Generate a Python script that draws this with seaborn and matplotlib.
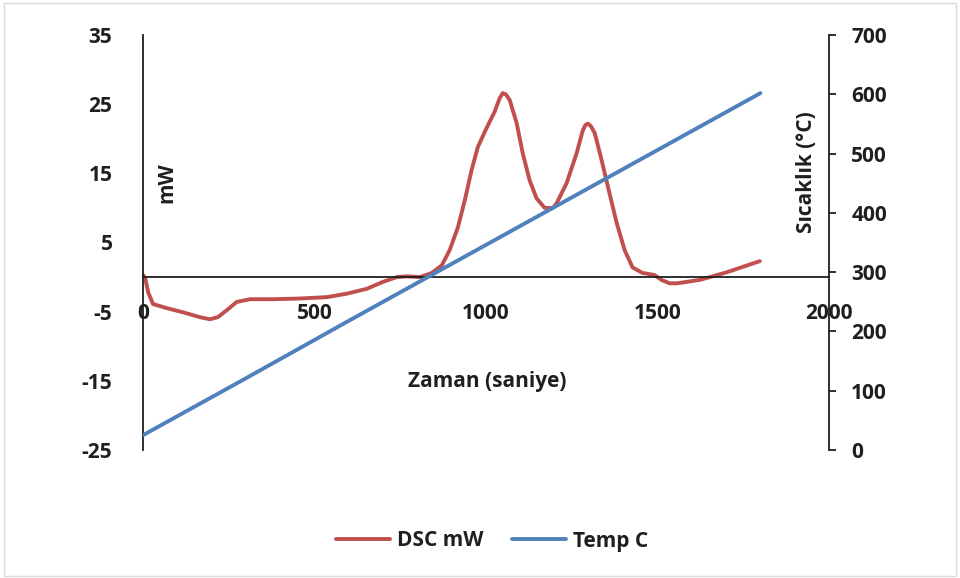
import matplotlib
matplotlib.use("Agg")
import matplotlib.pyplot as plt
import seaborn as sns
import pandas as pd
from matplotlib.lines import Line2D
from matplotlib.patches import Rectangle

# ---- data ----
dsc_time = [0, 6, 15, 29, 70, 117, 166, 195, 218, 244, 273, 312, 379, 457, 536,
            594, 652, 699, 740, 769, 808, 842, 871, 894, 918, 938, 958, 976, 1001,
            1025, 1040, 1049, 1058, 1069, 1089, 1107, 1127, 1147, 1171, 1195, 1206,
            1235, 1264, 1282, 1290, 1297, 1306, 1317, 1337, 1360, 1381, 1404, 1427,
            1456, 1491, 1511, 1535, 1557, 1624, 1660, 1702, 1750, 1798]
dsc_mw = [0.3, -0.1, -2.2, -3.9, -4.5, -5.1, -5.8, -6.1, -5.8, -4.8, -3.6, -3.2,
          -3.2, -3.1, -2.9, -2.4, -1.7, -0.7, 0.0, 0.1, 0.0, 0.6, 1.7, 3.9, 7.2,
          11.1, 15.5, 18.8, 21.5, 23.9, 25.9, 26.6, 26.4, 25.6, 22.3, 17.9, 14.0,
          11.4, 10.0, 10.0, 10.7, 13.6, 17.9, 21.2, 22.0, 22.2, 21.8, 20.8, 16.9,
          12.1, 7.8, 3.9, 1.4, 0.6, 0.3, -0.4, -0.9, -0.9, -0.4, 0.1, 0.7, 1.5, 2.3]
temp_time = [0, 300, 600, 900, 1200, 1500, 1800]
temp_c = [25, 121, 218, 314, 410, 506, 602]

x_ticks = [0, 500, 1000, 1500, 2000]
left_ticks = [-25, -15, -5, 5, 15, 25, 35]
right_ticks = [0, 100, 200, 300, 400, 500, 600, 700]

RED = "#C0504D"
BLUE = "#4F81BD"
INK = "#1f1f1f"
FS = 15

sns.set_theme(style="white")
plt.rcParams["font.family"] = ["Open Sans", "DejaVu Sans"]
plt.rcParams["font.weight"] = "bold"
plt.rcParams["axes.unicode_minus"] = False

fig = plt.figure(figsize=(9.6, 5.78), dpi=100)
fig.patches.append(Rectangle((0.004, 0.004), 0.992, 0.99, transform=fig.transFigure,
                             fill=False, edgecolor="#d9d9d9", linewidth=1))
ax = fig.add_axes([0.149, 0.2215, 0.7146, 0.7179])
ax2 = ax.twinx()

dsc_df = pd.DataFrame({"t": dsc_time, "v": dsc_mw})
temp_df = pd.DataFrame({"t": temp_time, "v": temp_c})

sns.lineplot(data=dsc_df, x="t", y="v", ax=ax, color=RED, linewidth=2.8,
             sort=False, legend=False)
sns.lineplot(data=temp_df, x="t", y="v", ax=ax2, color=BLUE, linewidth=2.8,
             sort=False, legend=False)
for a in (ax, ax2):
    for ln in a.get_lines():
        ln.set_solid_joinstyle("round")
        ln.set_solid_capstyle("round")

ax.set_xlim(0, 2000)
ax.set_ylim(-25, 35)
ax2.set_ylim(0, 700)
ax.set_xticks(x_ticks)
ax.set_yticks(left_ticks)
ax2.set_yticks(right_ticks)
ax.set_xlabel("")
ax.set_ylabel("")
ax2.set_ylabel("")

for a in (ax, ax2):
    a.set_facecolor("none")
    a.spines["top"].set_visible(False)
    for s in a.spines.values():
        s.set_color(INK)
        s.set_linewidth(1.3)
ax.spines["right"].set_visible(False)
ax2.spines["left"].set_visible(False)
ax2.spines["bottom"].set_visible(False)
ax.spines["bottom"].set_position(("data", 0))

ax.tick_params(axis="x", length=0, pad=19, labelsize=FS, labelcolor=INK)
ax.tick_params(axis="y", length=0, pad=22, labelsize=FS, labelcolor=INK)
ax2.tick_params(axis="y", direction="out", length=5, width=1.3, color=INK,
                pad=11, labelsize=FS, labelcolor=INK)
for lab in ax.get_xticklabels() + ax.get_yticklabels() + ax2.get_yticklabels():
    lab.set_fontweight("bold")
ax.grid(False)
ax2.grid(False)
ax2.set_zorder(ax.get_zorder() + 1)

fig.text(167 / 960, 1 - 183 / 578, "mW", rotation=90, ha="center", va="center",
         fontsize=FS, fontweight="bold", color=INK)
fig.text(807 / 960, 1 - 172 / 578, "Sıcaklık (°C)", rotation=90, ha="center",
         va="center", fontsize=FS, fontweight="bold", color=INK)
fig.text(487 / 960, 1 - 381 / 578, "Zaman (saniye)", ha="center", va="center",
         fontsize=FS, fontweight="bold", color=INK)

handles = [Line2D([], [], color=RED, linewidth=2.8),
           Line2D([], [], color=BLUE, linewidth=2.8)]
leg = fig.legend(handles, ["DSC mW", "Temp C"], loc="center",
                 bbox_to_anchor=(492 / 960, 1 - 541 / 578), ncol=2, frameon=False,
                 prop={"size": FS, "weight": "bold"}, handlelength=2.6,
                 handletextpad=0.3, columnspacing=1.4)
for t in leg.get_texts():
    t.set_color(INK)

fig.savefig("out.png", dpi=100)
